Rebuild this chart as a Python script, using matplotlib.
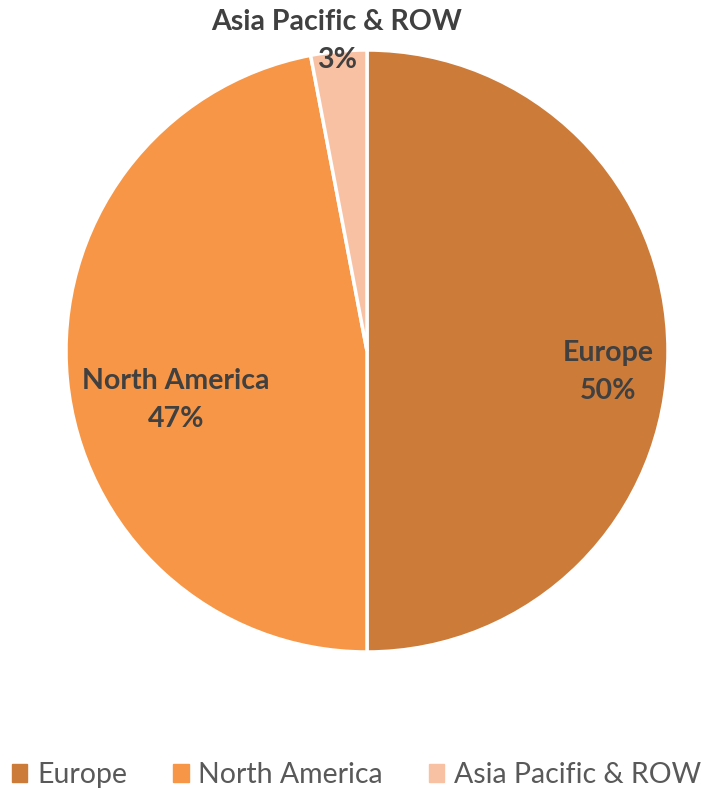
import matplotlib.pyplot as plt
import numpy as np

# Revenue split by region
regions = ["Europe", "North America", "Asia Pacific & ROW"]
shares = [50, 47, 3]
colors = ["#CD7B38", "#F79646", "#F9C1A3"]

TEXT = "#404040"
plt.rcParams["font.family"] = ["Lato", "DejaVu Sans"]

fig = plt.figure(figsize=(7.06, 7.92), dpi=100)
W, H = 706, 792
cx, cy, r = 367, 351, 301
ax = fig.add_axes([(cx - r) / W, (H - cy - r) / H, 2 * r / W, 2 * r / H])

wedges, _ = ax.pie(
    shares, colors=colors, startangle=90, counterclock=False,
    wedgeprops=dict(edgecolor="white", linewidth=2.5),
)
ax.set_xlim(-1, 1)
ax.set_ylim(-1, 1)
ax.set_aspect("equal")
ax.axis("off")

# data labels (name + percent)
label_pos = {
    "Europe": (0.80, -0.07),
    "North America": (-0.635, -0.163),
    "Asia Pacific & ROW": (-0.10, 1.03),
}
for name, val in zip(regions, shares):
    x, y = label_pos[name]
    ax.text(x, y, f"{name}\n{val}%", ha="center", va="center",
            fontsize=20.5, fontweight="bold", color=TEXT,
            linespacing=1.55, clip_on=False)

handles = [plt.Rectangle((0, 0), 1, 1, color=c) for c in colors]
fig.legend(handles, regions, loc="center", bbox_to_anchor=(0.505, 1 - 775 / H),
           ncol=3, frameon=False, fontsize=20.5, labelcolor="#595959",
           handlelength=0.55, handleheight=0.55, handletextpad=0.35,
           columnspacing=1.6)

fig.savefig("out.png", dpi=100)
